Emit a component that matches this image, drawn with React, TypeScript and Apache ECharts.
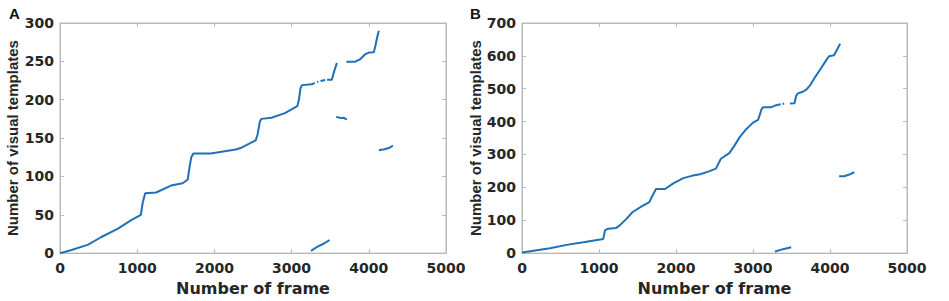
import React, { useEffect, useRef } from "react";
import * as echarts from "echarts";

// ---------- Data (frame, number of visual templates) ----------
const xTicks = [0, 1000, 2000, 3000, 4000, 5000];
const aYTicks = [0, 50, 100, 150, 200, 250, 300];
const bYTicks = [0, 100, 200, 300, 400, 500, 600, 700];

// Panel A
const aMain: (number[] | null)[] = [
  [0, 0], [150, 4], [365, 11], [536, 21], [751, 32], [923, 43], [1030, 49], [1048, 50],
  [1070, 65], [1103, 78], [1245, 79], [1438, 88], [1588, 91], [1655, 96], [1675, 110],
  [1700, 125], [1730, 130], [1953, 130], [2275, 135], [2339, 137], [2535, 147], [2560, 155],
  [2590, 172], [2609, 175], [2739, 176.5], [2913, 182.5], [3074, 191.5], [3095, 200],
  [3115, 215], [3135, 219], [3261, 220], [3300, 222], null, [3330, 223], [3345, 223.5], null,
  [3375, 224.5], [3435, 225.6], null, [3460, 226], [3522, 226], [3545, 235], [3587, 248],
];
const aUpper: number[][] = [
  [3709, 249.6], [3826, 249.6], [3891, 253], [3950, 259], [4000, 261.5], [4065, 262],
  [4085, 270], [4110, 282], [4130, 290],
];
const aMid: number[][] = [
  [3578, 178], [3600, 177], [3640, 176], [3680, 176.5], [3695, 175], [3717, 174.4],
];
const aRight: number[][] = [[4130, 134], [4200, 135.5], [4260, 137], [4313, 140]];
const aLow: number[][] = [[3252, 3], [3330, 8], [3420, 12.5], [3491, 17]];

// Panel B
const bMain: (number[] | null)[] = [
  [0, 2], [364, 15], [580, 25], [797, 33], [1035, 42], [1055, 43], [1078, 70], [1121, 74],
  [1221, 76], [1273, 85], [1359, 105], [1437, 125], [1554, 142], [1654, 155], [1684, 170],
  [1740, 195], [1857, 195], [1965, 212], [2095, 228], [2204, 235], [2312, 240], [2420, 248],
  [2518, 257], [2583, 287], [2627, 294], [2693, 304], [2759, 327], [2825, 352], [2912, 377],
  [3000, 397], [3066, 405], [3110, 437], [3132, 444], [3241, 444], [3300, 450], [3360, 453],
  null, [3385, 454], [3405, 454.5], null, [3480, 455], [3539, 456], [3560, 478], [3583, 486],
  [3636, 490], [3693, 497], [3746, 512], [3811, 537], [3877, 560], [3943, 584], [3987, 599],
  [4053, 602], [4075, 612], [4132, 637],
];
const bRight: number[][] = [[4118, 234], [4184, 234], [4250, 239], [4316, 246]];
const bLow: number[][] = [[3285, 5], [3390, 12], [3496, 18]];

const LINE = "#1f70b8";
const AXIS = "#b9b9b9";
const TEXT = "#262626";
const TICK_FONT = {
  fontFamily: "DejaVu Sans",
  fontWeight: "bold" as const,
  fontSize: 14,
  color: TEXT,
  formatter: (v: number) => String(v),
};

function xAxes(gridIndex: number) {
  const common = {
    type: "value" as const,
    gridIndex,
    min: xTicks[0],
    max: xTicks[xTicks.length - 1],
    interval: 1000,
    splitLine: { show: false },
    axisLine: { show: true, onZero: false, lineStyle: { color: AXIS, width: 1 } },
    axisTick: { show: true, inside: true, length: 4, lineStyle: { color: AXIS } },
  };
  return [
    {
      ...common,
      position: "bottom" as const,
      axisLabel: { ...TICK_FONT, margin: 8 },
      name: "Number of frame",
      nameLocation: "middle" as const,
      nameGap: 23,
      nameTextStyle: { fontFamily: "DejaVu Sans", fontWeight: "bold" as const, fontSize: 16, color: TEXT },
    },
    { ...common, position: "top" as const, axisLabel: { show: false } },
  ];
}

function yAxes(gridIndex: number, ticks: number[], gap: number) {
  const common = {
    type: "value" as const,
    gridIndex,
    min: ticks[0],
    max: ticks[ticks.length - 1],
    interval: ticks[1] - ticks[0],
    splitLine: { show: false },
    axisLine: { show: true, onZero: false, lineStyle: { color: AXIS, width: 1 } },
    axisTick: { show: true, inside: true, length: 4, lineStyle: { color: AXIS } },
  };
  return [
    {
      ...common,
      position: "left" as const,
      axisLabel: { ...TICK_FONT, margin: 6 },
      name: "Number of visual templates",
      nameLocation: "middle" as const,
      nameGap: gap,
      nameTextStyle: { fontFamily: "Liberation Sans", fontWeight: "bold" as const, fontSize: 15, color: TEXT },
    },
    { ...common, position: "right" as const, axisLabel: { show: false } },
  ];
}

function seg(data: (number[] | null)[], xi: number, yi: number) {
  return {
    type: "line" as const,
    xAxisIndex: xi,
    yAxisIndex: yi,
    data: data.map((d) => (d === null ? [null, null] : d)),
    connectNulls: false,
    showSymbol: false,
    symbol: "none",
    smooth: false,
    lineStyle: { color: LINE, width: 2 },
    silent: true,
  };
}

export default function App() {
  const ref = useRef<HTMLDivElement>(null);
  useEffect(() => {
    if (!ref.current) return;
    const chart = echarts.init(ref.current, null, { renderer: "svg" });
    chart.setOption({
      animation: false,
      backgroundColor: "#ffffff",
      title: [
        { text: "A", left: 4, top: 1, textStyle: { fontFamily: "Liberation Sans", fontWeight: "bold", fontSize: 15, color: "#111" } },
        { text: "B", left: 465, top: 1, textStyle: { fontFamily: "Liberation Sans", fontWeight: "bold", fontSize: 15, color: "#111" } },
      ],
      grid: [
        { left: 60, top: 23, width: 386, height: 234, containLabel: false, show: true, borderColor: AXIS, borderWidth: 1, backgroundColor: "transparent" },
        { left: 522, top: 23, width: 385, height: 234, containLabel: false, show: true, borderColor: AXIS, borderWidth: 1, backgroundColor: "transparent" },
      ],
      xAxis: [...xAxes(0), ...xAxes(1)],
      yAxis: [...yAxes(0, aYTicks, 40), ...yAxes(1, bYTicks, 37)],
      series: [
        seg(aMain, 0, 0),
        seg(aUpper, 0, 0),
        seg(aMid, 0, 0),
        seg(aRight, 0, 0),
        seg(aLow, 0, 0),
        seg(bMain, 2, 2),
        seg(bRight, 2, 2),
        seg(bLow, 2, 2),
      ],
    });
    return () => chart.dispose();
  }, []);
  return (
    <div
      ref={ref}
      style={{ position: "absolute", left: 0, top: 0, width: 949, height: 301, background: "#fff" }}
    />
  );
}
